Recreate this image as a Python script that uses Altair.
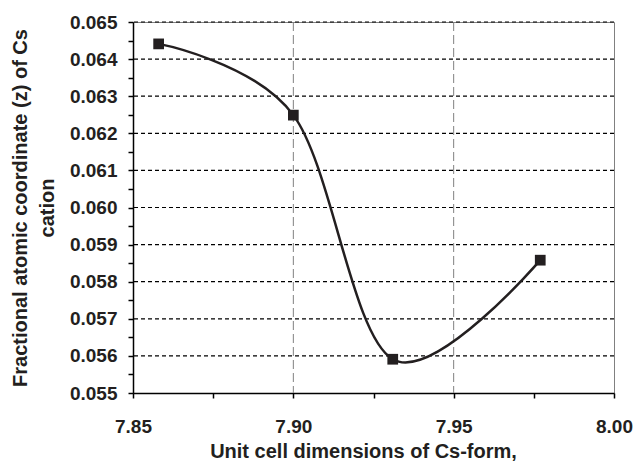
import altair as alt
import pandas as pd

# Data
cell_dim = [7.858, 7.900, 7.931, 7.977]
z_coord = [0.06441, 0.06249, 0.05591, 0.05858]

# Axis tick / grid values
x_ticks = [7.85, 7.875, 7.90, 7.925, 7.95, 7.975, 8.00]
y_ticks = [0.055, 0.0555, 0.056, 0.0565, 0.057, 0.0575, 0.058, 0.0585, 0.059,
           0.0595, 0.060, 0.0605, 0.061, 0.0615, 0.062, 0.0625, 0.063, 0.0635,
           0.064, 0.0645, 0.065]
y_grid = [0.056, 0.057, 0.058, 0.059, 0.060, 0.061, 0.062, 0.063, 0.064, 0.065]
x_grid = [7.90, 7.95]

df = pd.DataFrame({"x": cell_dim, "y": z_coord})
hg = pd.DataFrame({"y": y_grid})
vg = pd.DataFrame({"x": x_grid})

FONT = "Liberation Sans"
INK = "#231f20"

x_scale = alt.Scale(domain=[7.85, 8.00], nice=False, zero=False)
y_scale = alt.Scale(domain=[0.055, 0.065], nice=False, zero=False)

x_axis = alt.Axis(
    values=x_ticks,
    labelExpr="abs(datum.value*20 - round(datum.value*20)) < 0.001 ? format(datum.value, '.2f') : ''",
    title="Unit cell dimensions of Cs-form,",
    grid=False, domainColor="black", domainWidth=1.5,
    tickColor="black", tickWidth=1.5, tickSize=5,
    labelPadding=19, labelFont=FONT, labelFontSize=19, labelFontWeight=700,
    labelColor=INK, labelOverlap=False, labelFlush=False, labelBound=False,
    titleFont=FONT, titleFontSize=20, titleFontWeight=700, titleColor=INK,
    titleX=230, titleY=58, titleAlign="center", titleBaseline="middle",
)
y_axis = alt.Axis(
    values=y_ticks,
    labelExpr="abs(datum.value*1000 - round(datum.value*1000)) < 0.001 ? format(datum.value, '.3f') : ''",
    title=["Fractional atomic coordinate (z) of Cs", "cation"],
    grid=False, domainColor="black", domainWidth=1.5,
    tickColor="black", tickWidth=1.5, tickSize=5,
    labelPadding=11, labelFont=FONT, labelFontSize=19, labelFontWeight=700,
    labelColor=INK, labelOverlap=False, labelFlush=False, labelBound=False,
    titleFont=FONT, titleFontSize=20, titleFontWeight=700, titleColor=INK,
    titleAngle=-90, titleX=-113, titleY=185.5, titleAlign="center",
    titleBaseline="middle", titleLineHeight=27,
)

hgrid = alt.Chart(hg).mark_rule(color="black", strokeWidth=1.2, strokeDash=[4, 3]).encode(
    y=alt.Y("y:Q", scale=y_scale, axis=y_axis)
)
vgrid = alt.Chart(vg).mark_rule(color="#808080", strokeWidth=1, strokeDash=[9, 4]).encode(
    x=alt.X("x:Q", scale=x_scale, axis=x_axis)
)
line = alt.Chart(df).mark_line(
    color=INK, strokeWidth=2.5, interpolate="cardinal", tension=0
).encode(
    x=alt.X("x:Q", scale=x_scale, axis=x_axis),
    y=alt.Y("y:Q", scale=y_scale, axis=y_axis),
)
pts = alt.Chart(df).mark_point(
    shape="square", filled=True, size=115, color=INK, opacity=1
).encode(
    x=alt.X("x:Q", scale=x_scale, axis=x_axis),
    y=alt.Y("y:Q", scale=y_scale, axis=y_axis),
)

chart = alt.layer(vgrid, hgrid, line, pts).properties(
    width=481, height=371,
    autosize=alt.AutoSizeParams(type="none"),
    padding={"left": 133, "top": 22, "right": 21, "bottom": 68},
    background="white",
).configure_view(
    stroke="#808080", strokeWidth=1
).configure_axis(
    labelFont=FONT, labelFontWeight=700, labelFontSize=19
)

chart.save("out.html", embed_options={"renderer": "svg", "actions": False})
